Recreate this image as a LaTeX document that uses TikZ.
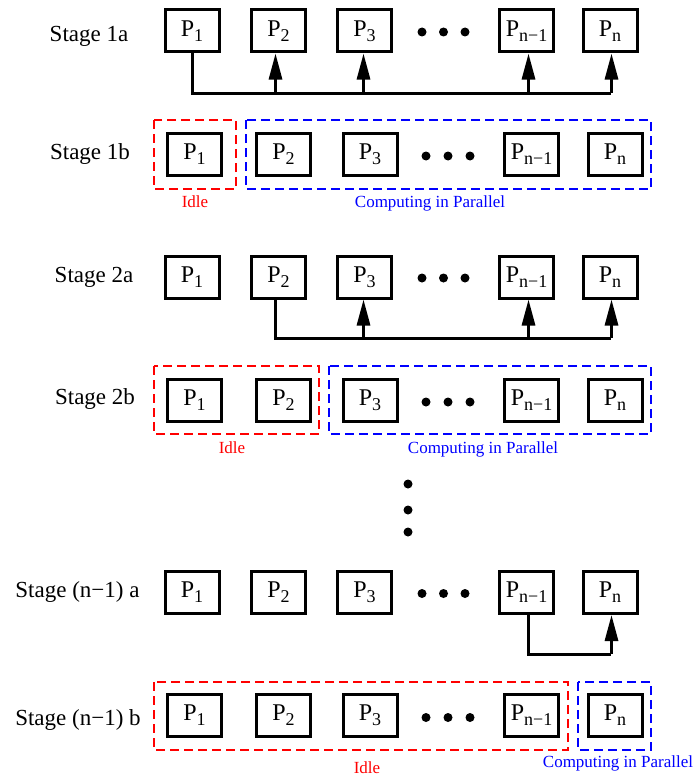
\documentclass[tikz,border=0pt]{standalone}
\usepackage{fontspec}
\setmainfont{Liberation Serif}
\usetikzlibrary{arrows.meta}
\newcommand\psub[1]{\raisebox{-5pt}{\fontsize{18}{18}\selectfont #1}}
\begin{document}
\begin{tikzpicture}[x=1pt,y=-1pt,
  pbox/.style={draw,line width=3pt,minimum width=54pt,minimum height=42pt,inner sep=0pt,font=\fontsize{24}{24}\selectfont},
  stagelbl/.style={anchor=base,font=\fontsize{23}{23}\selectfont,inner sep=0pt},
  conn/.style={line width=3pt},
  arr/.style={line width=3pt,-{Triangle[length=26pt,width=13pt]}},
  grp/.style={line width=2pt,dash pattern=on 9pt off 5pt},
  grplbl/.style={anchor=base,font=\fontsize{17}{17}\selectfont,inner sep=0pt},
  dot/.style={circle,fill,inner sep=0pt,minimum size=9pt}]
\useasboundingbox (0,0) rectangle (695,776);
% rows of type a
\foreach \r/\y in {A/31,C/277,E/592.5}{
  \node[pbox] (\r1) at (192,\y) {P\psub{1}};
  \node[pbox] (\r2) at (278.5,\y) {P\psub{2}};
  \node[pbox] (\r3) at (364.5,\y) {P\psub{3}};
  \node[dot] (\r d1) at (422,\y+1) {};
  \node[dot] (\r d2) at (443.5,\y+1) {};
  \node[dot] (\r d3) at (465,\y+1) {};
  \node[pbox] (\r4) at (526.5,\y) {P\psub{n−1}};
  \node[pbox] (\r5) at (610,\y) {P\psub{n}};
}
% rows of type b
\foreach \r/\y in {B/154,D/400,F/715.5}{
  \node[pbox] (\r1) at (194.5,\y) {P\psub{1}};
  \node[pbox] (\r2) at (283.5,\y) {P\psub{2}};
  \node[pbox] (\r3) at (370,\y) {P\psub{3}};
  \node[dot] (\r d1) at (426,\y+2) {};
  \node[dot] (\r d2) at (448,\y+2) {};
  \node[dot] (\r d3) at (470,\y+2) {};
  \node[pbox] (\r4) at (531.5,\y) {P\psub{n−1}};
  \node[pbox] (\r5) at (615,\y) {P\psub{n}};
}
% stage labels
\node[stagelbl] (L1a) at (89,41.7) {Stage 1a};
\node[stagelbl] (L1b) at (90,159) {Stage 1b};
\node[stagelbl] (L2a) at (94,282) {Stage 2a};
\node[stagelbl] (L2b) at (95,404) {Stage 2b};
\node[stagelbl] (Lna) at (77.5,597) {Stage (n−1) a};
\node[stagelbl] (Lnb) at (78,725) {Stage (n−1) b};
% stage 1a connectors
\coordinate (bus1) at (611,93);
\draw[conn] (A1.south) |- (bus1);
\draw[arr] ([xshift=-3pt]A2.south |- bus1) -- ([xshift=-3pt]A2.south);
\draw[arr] ([xshift=-1pt]A3.south |- bus1) -- ([xshift=-1pt]A3.south);
\draw[arr] ([xshift=2pt]A4.south |- bus1) -- ([xshift=2pt]A4.south);
\draw[arr] ([xshift=1.5pt]A5.south |- bus1) -- ([xshift=1.5pt]A5.south);
% stage 2a connectors
\coordinate (bus2) at (611,338);
\draw[conn] ([xshift=-3pt]C2.south) |- (bus2);
\draw[arr] ([xshift=-1pt]C3.south |- bus2) -- ([xshift=-1pt]C3.south);
\draw[arr] ([xshift=2pt]C4.south |- bus2) -- ([xshift=2pt]C4.south);
\draw[arr] ([xshift=1.5pt]C5.south |- bus2) -- ([xshift=1.5pt]C5.south);
% stage (n-1)a connectors
\coordinate (bus3) at (611,654);
\draw[conn] ([xshift=2pt]E4.south) |- (bus3);
\draw[arr] ([xshift=1.5pt]E5.south |- bus3) -- ([xshift=1.5pt]E5.south);
% groups stage 1b
\draw[grp,red] (154,120) rectangle (236,189);
\draw[grp,blue] (246,120) rectangle (651,189);
\node[grplbl,red] (I1) at (195,207) {Idle};
\node[grplbl,blue] (C1) at (430,207) {Computing in Parallel};
% groups stage 2b
\draw[grp,red] (154,366) rectangle (319,434);
\draw[grp,blue] (329,366) rectangle (651,434);
\node[grplbl,red] (I2) at (232,453) {Idle};
\node[grplbl,blue] (C2l) at (483,453) {Computing in Parallel};
% vertical dots
\node[dot] (v1) at (408,484) {};
\node[dot] (v2) at (408,510) {};
\node[dot] (v3) at (408,532) {};
% groups stage (n-1)b
\draw[grp,red] (154,682) rectangle (568,750);
\draw[grp,blue] (578,682) rectangle (651,750);
\node[grplbl,red] (I3) at (367,773) {Idle};
\node[grplbl,blue] (C3l) at (618,767) {Computing in Parallel};
\end{tikzpicture}
\end{document}
